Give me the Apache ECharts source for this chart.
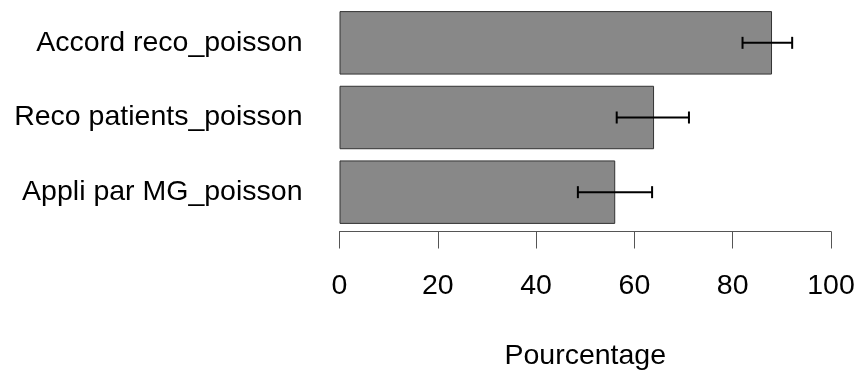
<!DOCTYPE html>
<html>
<head>
<meta charset="utf-8">
<script src="https://cdn.jsdelivr.net/npm/echarts@6/dist/echarts.min.js"></script>
<style>html,body{margin:0;padding:0;background:#fff}#c{width:856px;height:371px}</style>
</head>
<body>
<div id="c"></div>
<script>
var categories = ['Accord reco_poisson', 'Reco patients_poisson', 'Appli par MG_poisson'];
var values = [88, 64, 56.1];
var lowerCI = [82, 56.4, 48.5];
var upperCI = [92.1, 71.1, 63.6];
var xTicks = [0, 20, 40, 60, 80, 100];

var chart = echarts.init(document.getElementById('c'));
var font = 'Liberation Sans, Arial, sans-serif';
var errData = categories.map(function (c, i) { return [i, lowerCI[i], upperCI[i]]; });

chart.setOption({
  animation: false,
  backgroundColor: '#fff',
  grid: { left: 339.5, right: 25, top: 5.5, height: 224, outerBoundsMode: 'none', containLabel: false },
  xAxis: {
    type: 'value', min: xTicks[0], max: xTicks[xTicks.length - 1], interval: 20,
    offset: 2,
    axisLine: { show: true, lineStyle: { color: '#555', width: 1 } },
    axisTick: { show: true, length: 17, lineStyle: { color: '#555', width: 1 } },
    splitLine: { show: false },
    axisLabel: { fontSize: 28.5, color: '#000', fontFamily: font, margin: 40,
      formatter: function (v) { return xTicks.indexOf(v) >= 0 ? String(v) : ''; } },
    name: 'Pourcentage', nameLocation: 'middle', nameGap: 110,
    nameTextStyle: { fontSize: 28.5, color: '#000', fontFamily: font }
  },
  yAxis: {
    type: 'category', data: categories, inverse: true,
    axisLine: { show: false }, axisTick: { show: false }, splitLine: { show: false },
    axisLabel: { fontSize: 28.5, color: '#000', fontFamily: font, margin: 37 }
  },
  series: [
    {
      type: 'bar', data: values, barCategoryGap: '15%',
      itemStyle: { color: '#888888', borderColor: '#333', borderWidth: 1 }
    },
    {
      type: 'custom', data: errData, z: 10,
      encode: { y: 0, x: [1, 2] },
      renderItem: function (params, api) {
        var yi = api.value(0);
        var p1 = api.coord([api.value(1), yi]);
        var p2 = api.coord([api.value(2), yi]);
        var h = 6;
        var st = { stroke: '#000', lineWidth: 2 };
        return { type: 'group', children: [
          { type: 'line', shape: { x1: p1[0], y1: p1[1], x2: p2[0], y2: p2[1] }, style: st },
          { type: 'line', shape: { x1: p1[0], y1: p1[1] - h, x2: p1[0], y2: p1[1] + h }, style: st },
          { type: 'line', shape: { x1: p2[0], y1: p2[1] - h, x2: p2[0], y2: p2[1] + h }, style: st }
        ]};
      }
    }
  ]
});
</script>
</body>
</html>
